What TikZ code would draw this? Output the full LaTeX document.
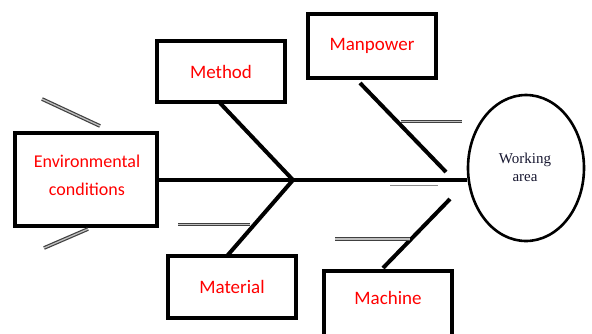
\documentclass[tikz,border=0pt]{standalone}
\usepackage{fontspec}
\setmainfont{Carlito}
\newfontfamily\serifface{Liberation Serif}
\usetikzlibrary{shapes.geometric}
\definecolor{labelred}{RGB}{255,0,0}
\definecolor{inkblue}{RGB}{25,25,50}
\tikzset{
  causebox/.style={draw=black, line width=3.5pt, fill=white, inner sep=0pt,
    text=labelred, font=\fontsize{19}{23}\selectfont, align=center},
  causetext/.style={text=labelred, inner sep=0pt, align=center},
  bone/.style={line width=4pt, line cap=butt},
  twig/.style={draw=black!75, line width=1.2pt, double=black!25, double distance=1.3pt},
}
\begin{document}
\begin{tikzpicture}[x=1pt, y=-1pt]
  \useasboundingbox[fill=white] (0,0) rectangle (592,333);

  % effect
  \node[draw, ellipse, line width=2.6pt, minimum width=116pt, minimum height=146pt] (effect) at (526,168) {};
  \node[font=\serifface\fontsize{15}{18}\selectfont, text=inkblue, align=center, inner sep=0pt]
        (effecttext) at (525,167) {Working\\area};

  % cause boxes
  \node[causebox, minimum width=142pt, minimum height=93pt] (env) at (86,179.5) {};
  \node[causetext, font=\fontsize{18}{28}\selectfont] (envtext) at (87,175) {Environmental\\conditions};
  \node[causebox, minimum width=128pt, minimum height=61pt] (method)   at (221,71.5) {Method};
  \node[causebox, minimum width=128pt, minimum height=62pt] (material) at (232,287) {Material};
  \node[causebox, minimum width=128pt, minimum height=64pt] (manpower) at (372,46) {Manpower};
  \node[causebox, minimum width=128pt, minimum height=66pt,
        text height=13pt, text depth=12pt] (machine) at (388,304) {Machine};

  % bone end points
  \coordinate (joint)   at (293,180);
  \coordinate (meth0)   at (220,103);
  \coordinate (mat0)    at (227,256);
  \coordinate (man0)    at (360,83);
  \coordinate (man1)    at (446,172);
  \coordinate (mach0)   at (450,199);
  \coordinate (mach1)   at (383,268);
  \coordinate (spineL)  at (env.east |- joint);
  \coordinate (spineR)  at (effect.west |- joint);

  % spine and main bones
  \draw[bone] (spineL) -- (spineR);
  \draw[draw=black!45, line width=1.2pt] (390,185.5) -- (438,185.5);
  \draw[bone] (meth0) -- (joint) -- (mat0);
  \draw[bone] (man0) -- (man1);
  \draw[bone] (mach0) -- (mach1);

  % minor twigs
  \draw[twig] (401,121.5) -- (462,121.5);
  \draw[twig] (335,239) -- (410,239);
  \draw[twig] (178,224.5) -- (250,224.5);
  \draw[twig] (42,99) -- (100,126);
  \draw[twig] (88,229) -- (44,248);
\end{tikzpicture}
\end{document}
